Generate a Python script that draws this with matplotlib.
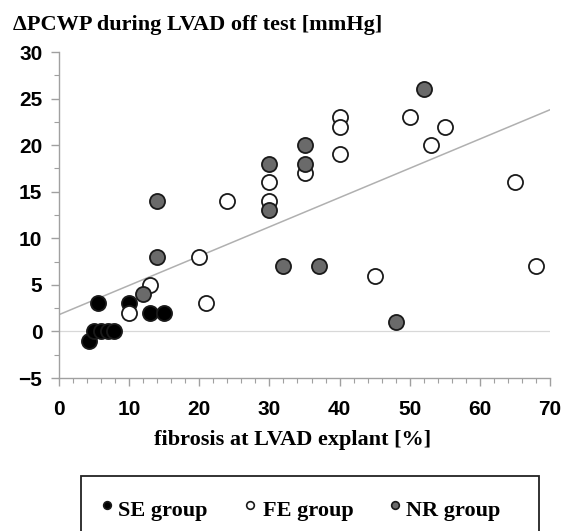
import matplotlib
matplotlib.use("Agg")
import matplotlib.pyplot as plt
from matplotlib.lines import Line2D
from matplotlib.patches import Rectangle
import numpy as np

# SE group (black)
se_x = [4.3, 5.0, 6.0, 7.0, 7.8, 5.6, 10, 13, 15]
se_y = [-1, 0, 0, 0, 0, 3, 3, 2, 2]

# FE group (white)
fe_x = [10, 13, 20, 21, 24, 30, 30, 35, 40, 40, 40, 45, 50, 53, 55, 65, 68]
fe_y = [2, 5, 8, 3, 14, 16, 14, 17, 23, 22, 19, 6, 23, 20, 22, 16, 7]

# NR group (gray)
nr_x = [12, 14, 14, 30, 30, 32, 35, 35, 37, 48, 52]
nr_y = [4, 8, 14, 18, 13, 7, 20, 18, 7, 1, 26]

# regression line end points
fit_x = [0, 70]
fit_y = [1.8, 23.8]

tick_font = ['Liberation Sans Narrow', 'Liberation Sans', 'DejaVu Sans']
serif = ['Liberation Serif', 'DejaVu Serif']

fig = plt.figure(figsize=(5.71, 5.31), dpi=100)
ax = fig.add_axes([59 / 571, 1 - 378 / 531, 491 / 571, 326 / 531])

ax.axhline(0, color='#d8d8d8', lw=0.9, zorder=1)
ax.plot(fit_x, fit_y, color='#b0b0b0', lw=1.1, zorder=2)

kw = dict(s=118, linewidths=1.3, edgecolors='#1a1a1a', zorder=3)
ax.scatter(se_x, se_y, c='black', **kw)
ax.scatter(fe_x, fe_y, c='white', **kw)
ax.scatter(nr_x, nr_y, c='#6a6a6a', **kw)

ax.set_xlim(0, 70)
ax.set_ylim(-5, 30)
ax.set_xticks(np.arange(0, 71, 10))
ax.set_xticks(np.arange(0, 71, 2), minor=True)
ax.set_yticks(np.arange(-5, 31, 5))
ax.set_yticks(np.arange(-5, 31, 2.5), minor=True)
ax.set_yticklabels(['\u22125' if v < 0 else str(v) for v in range(-5, 31, 5)])

for s in ['top', 'right']:
    ax.spines[s].set_visible(False)
for s in ['left', 'bottom']:
    ax.spines[s].set_color('#a0a0a0')
    ax.spines[s].set_linewidth(1.0)
ax.tick_params(which='major', length=6, width=1.0, color='#a0a0a0')
ax.tick_params(axis='x', which='major', pad=10)
ax.tick_params(axis='y', which='major', pad=6)
ax.tick_params(which='minor', length=3.5, width=0.8, color='#a0a0a0')
for lab in ax.get_xticklabels() + ax.get_yticklabels():
    lab.set_family(tick_font)
    lab.set_fontweight('bold')
    lab.set_fontsize(15)

fig.text(13 / 571, 1 - 25 / 531, '\u0394PCWP during LVAD off test [mmHg]',
         family=serif, fontweight='bold', fontsize=16, ha='left', va='center')
fig.text(293 / 571, 1 - 440 / 531, 'fibrosis at LVAD explant [%]',
         family=serif, fontweight='bold', fontsize=16, ha='center', va='center')

# legend box (cut off at bottom of the picture)
fig.add_artist(Rectangle((81 / 571, -0.05), 458 / 571, 0.05 + 1 - 476 / 531,
                         transform=fig.transFigure, fill=False,
                         edgecolor='#222222', lw=1.3))
leg = [('SE group', 'black', 107, 118),
       ('FE group', 'white', 250, 263),
       ('NR group', '#6a6a6a', 395, 406)]
for name, col, mx, tx in leg:
    fig.add_artist(Line2D([mx / 571], [1 - 505 / 531], marker='o', markersize=5.5,
                          markerfacecolor=col, markeredgecolor='#1a1a1a',
                          markeredgewidth=1.2, linestyle='none',
                          transform=fig.transFigure))
    fig.text(tx / 571, 1 - 511 / 531, name, family=serif, fontweight='bold',
             fontsize=16, ha='left', va='center')

fig.savefig('out.png', dpi=100)
